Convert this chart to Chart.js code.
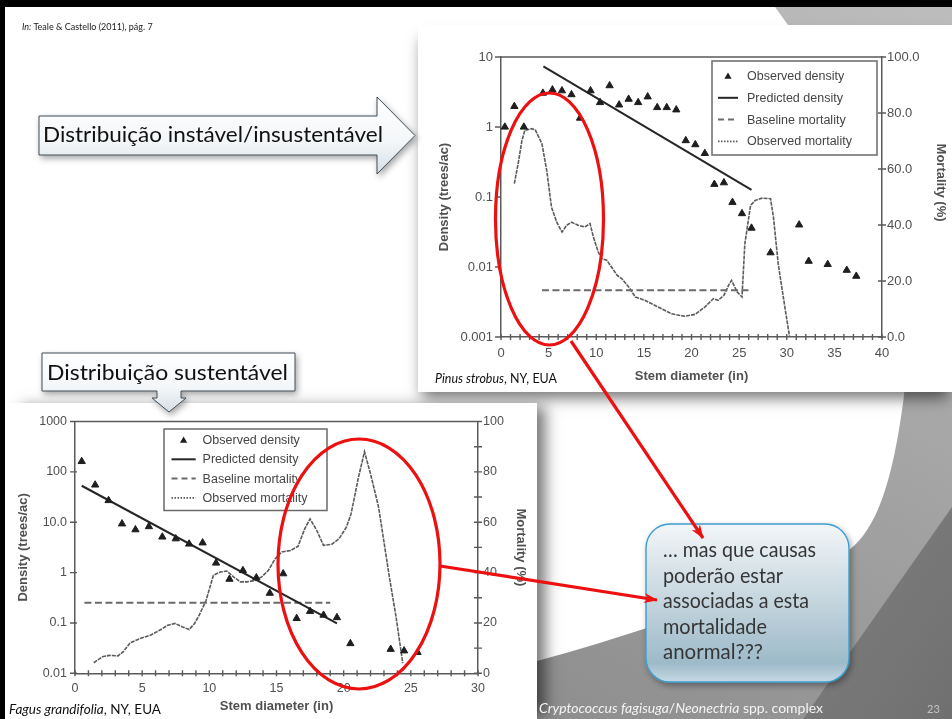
<!DOCTYPE html>
<html lang="pt">
<head>
<meta charset="utf-8">
<title>Distribuição diamétrica e mortalidade</title>
<script src="https://cdn.jsdelivr.net/npm/chart.js@4.4.1/dist/chart.umd.min.js"></script>
<style>
  html, body { margin: 0; padding: 0; }
  body { width: 952px; height: 719px; position: relative; overflow: hidden; background: #fff;
         font-family: Lato, "Open Sans", sans-serif; }
  svg.layer { position: absolute; left: 0; top: 0; }
  #bg { z-index: 0; }
  #fx { z-index: 3; pointer-events: none; }
  .panel { position: absolute; background: #fff; z-index: 1; }
  #pinusPanel { left: 418px; top: 25px; width: 534px; height: 367px;
                box-shadow: 0 10px 14px -4px rgba(0,0,0,.55); }
  #fagusPanel { left: 5px; top: 403px; width: 532px; height: 316px;
                box-shadow: 12px 0 14px -4px rgba(0,0,0,.55); }
  .panel canvas { position: absolute; left: 0; top: 0; filter: blur(0.45px); }
</style>
</head>
<body>

<svg id="bg" class="layer" width="952" height="719">
  <defs>
    <linearGradient id="greyWash" x1="1" y1="0" x2="0.3" y2="1">
      <stop offset="0" stop-color="#bdbdbd"/>
      <stop offset="1" stop-color="#878787"/>
    </linearGradient>
    <linearGradient id="darkWash" x1="0" y1="0" x2="1" y2="1">
      <stop offset="0" stop-color="#808080"/>
      <stop offset="1" stop-color="#707070"/>
    </linearGradient>
  </defs>
  <rect width="952" height="719" fill="url(#greyWash)"/>
  <path d="M803,719 L952,507 L952,719 Z" fill="url(#darkWash)"/>
  <path d="M0,0 H770 L788,25 C875,150 918,320 902,410 C890,495 872,535 845,553 C760,590 650,630 537,661 L537,719 L0,719 Z" fill="#fff"/>
  <rect x="0" y="0" width="952" height="7" fill="#000"/>
  <rect x="0" y="0" width="5" height="719" fill="#000"/>
</svg>

<div class="panel" id="pinusPanel"><canvas id="pinusChart" width="534" height="367"></canvas></div>
<div class="panel" id="fagusPanel"><canvas id="fagusChart" width="532" height="316"></canvas></div>

<svg id="fx" class="layer" width="952" height="719">
  <defs>
    <filter id="soft" x="-20%" y="-30%" width="150%" height="180%">
      <feDropShadow dx="2" dy="3" stdDeviation="3" flood-color="#000" flood-opacity="0.35"/>
    </filter>
    <linearGradient id="arrowFill" x1="0" y1="0" x2="0" y2="1">
      <stop offset="0" stop-color="#ffffff"/>
      <stop offset="0.6" stop-color="#f3f6f8"/>
      <stop offset="1" stop-color="#d6dee4"/>
    </linearGradient>
    <linearGradient id="noteFill" x1="0" y1="0" x2="0" y2="1">
      <stop offset="0" stop-color="#f2f6f8"/>
      <stop offset="0.45" stop-color="#c9d8e0"/>
      <stop offset="0.88" stop-color="#9dbac9"/>
      <stop offset="1" stop-color="#c6d9e3"/>
    </linearGradient>
    <marker id="redHead" markerWidth="14" markerHeight="10" refX="13" refY="5" orient="auto" markerUnits="userSpaceOnUse">
      <path d="M0,0 L14,5 L0,10 L4,5 Z" fill="#ec1010"/>
    </marker>
  </defs>

  <text x="22" y="30" font-size="9" fill="#222"><tspan font-style="italic">In:</tspan> Teale &amp; Castello (2011), pág. 7</text>

  <path d="M39,116 H377 V97 L415,135.5 L377,174 V155 H39 Z" fill="url(#arrowFill)" stroke="#3e4c57" stroke-width="1" filter="url(#soft)"/>
  <text x="43" y="142" font-size="22" fill="#111" textLength="340" lengthAdjust="spacingAndGlyphs">Distribuição instável/insustentável</text>

  <path d="M42,353 H295 V391 H181 V398 H186 L169,412 L152,398 H157 V391 H42 Z" fill="url(#arrowFill)" stroke="#3e4c57" stroke-width="1" filter="url(#soft)"/>
  <text x="47" y="380" font-size="22" fill="#111" textLength="241" lengthAdjust="spacingAndGlyphs">Distribuição sustentável</text>

  <text x="435" y="383" font-size="12.5" fill="#111" textLength="122" lengthAdjust="spacingAndGlyphs"><tspan font-style="italic">Pinus strobus</tspan>, NY, EUA</text>
  <text x="9" y="714" font-size="12.5" fill="#111" textLength="152" lengthAdjust="spacingAndGlyphs"><tspan font-style="italic">Fagus grandifolia</tspan>, NY, EUA</text>

  <rect x="646" y="524" width="203" height="158" rx="24" fill="url(#noteFill)" stroke="#3c9dd0" stroke-width="1.4" filter="url(#soft)"/>
  <g font-size="21" fill="#353535">
    <text x="663" y="557" textLength="153" lengthAdjust="spacingAndGlyphs">… mas que causas</text>
    <text x="663" y="583" textLength="120" lengthAdjust="spacingAndGlyphs">poderão estar</text>
    <text x="663" y="608" textLength="146" lengthAdjust="spacingAndGlyphs">associadas a esta</text>
    <text x="663" y="634" textLength="104" lengthAdjust="spacingAndGlyphs">mortalidade</text>
    <text x="663" y="659" textLength="100" lengthAdjust="spacingAndGlyphs">anormal???</text>
  </g>

  <g fill="none" stroke="#ec1010" stroke-width="3.2">
    <ellipse cx="549.5" cy="219" rx="54" ry="126"/>
    <ellipse cx="359" cy="564" rx="81" ry="125"/>
    <line x1="571" y1="341" x2="703" y2="538" marker-end="url(#redHead)"/>
    <line x1="440" y1="566" x2="657" y2="600" marker-end="url(#redHead)"/>
  </g>

  <text x="539" y="713" font-size="13.5" fill="#f4f4f4" textLength="284" lengthAdjust="spacingAndGlyphs"><tspan font-style="italic">Cryptococcus fagisuga</tspan>/<tspan font-style="italic">Neonectria</tspan> spp. complex</text>
  <text x="927" y="713" font-size="11" fill="#c4c4c4">23</text>
</svg>

<script>
// ---------- Pinus strobus, NY ----------
const pinusDiameter        = [0.4, 1.4, 2.4, 4.4, 5.4, 6.4, 7.4, 8.3, 9.4, 10.4, 11.4, 12.4, 13.4, 14.4, 15.4, 16.4,
                              17.4, 18.4, 19.4, 20.4, 21.4, 22.4, 23.4, 24.3, 25.3, 26.3, 28.3, 31.3, 32.3, 34.3, 36.3, 37.3];
const pinusDensity         = [1.0, 1.97, 1.0, 3.05, 3.4, 3.3, 2.9, 1.34, 3.3, 2.24, 3.9, 2.07, 2.5, 2.24, 2.7, 1.9,
                              1.9, 1.76, 0.64, 0.56, 0.42, 0.152, 0.16, 0.084, 0.058, 0.036, 0.016, 0.040, 0.0121, 0.0109, 0.0090, 0.0074];
const pinusPredictedDiam   = [4.45, 26.3];
const pinusPredicted       = [7.35, 0.126];
const pinusBaselineDiam    = [4.3, 26.3];
const pinusBaseline        = [16.7, 16.7];
const pinusMortalityDiam   = [1.4, 1.8, 2.2, 2.5, 3.2, 3.6, 4.3, 4.8, 5.3, 5.85, 6.4, 6.9, 7.4, 8.1, 8.8, 9.35, 9.7, 10.2,
                              10.6, 11.1, 11.6, 12.2, 12.7, 13.4, 14.1, 15.1, 16.5, 17.9, 19.3, 20.4, 21.4, 22.3, 22.8,
                              23.4, 23.9, 24.2, 24.8, 25.3, 25.6, 26.2, 26.7, 27.4, 28.3, 28.6, 29.1, 29.8, 30.3];
const pinusMortality       = [54.8, 61.9, 70.2, 73.8, 74.4, 74, 69, 59.5, 46.4, 41, 37.5, 39.9, 41, 39.9, 39.3, 40.5, 35.7, 30.4,
                              28, 27.4, 25, 22, 20.8, 17.9, 14.3, 13.1, 10.7, 8.3, 7.4, 8.1, 10.7, 13.7, 13.1,
                              14.9, 18.5, 20.2, 16.1, 14.3, 33.3, 47, 48.8, 49.6, 49.4, 42.9, 26.2, 10.7, 0];
const pinusDensityTicks    = [0.001, 0.01, 0.1, 1, 10];
const pinusDensityLabels   = ['0.001', '0.01', '0.1', '1', '10'];
const pinusMortTicks       = [0, 20, 40, 60, 80, 100];
const pinusMortLabels      = ['0.0', '20.0', '40.0', '60.0', '80.0', '100.0'];
const pinusDiamLabels      = ['0', '5', '10', '15', '20', '25', '30', '35', '40'];

// ---------- Fagus grandifolia, NY ----------
const fagusDiameter        = [0.5, 1.5, 2.5, 3.5, 4.5, 5.5, 6.5, 7.5, 8.5, 9.5, 10.5, 11.5, 12.5, 13.5, 14.5, 15.5,
                              16.5, 17.5, 18.5, 19.5, 20.5, 23.5, 24.5, 25.5];
const fagusDensity         = [161, 55, 27, 9.3, 7.1, 8.2, 5.1, 4.7, 3.7, 3.9, 1.55, 0.74, 1.1, 0.79, 0.39, 0.95,
                              0.123, 0.17, 0.143, 0.128, 0.039, 0.030, 0.028, 0.026];
const fagusPredictedDiam   = [0.5, 19.5];
const fagusPredicted       = [53, 0.098];
const fagusBaselineDiam    = [0.7, 19.0];
const fagusBaseline        = [28, 28];
const fagusMortalityDiam   = [1.4, 2.05, 2.57, 3.2, 3.6, 4.1, 4.9, 5.65, 6.4, 6.9, 7.45, 7.96, 8.5, 8.9, 9.25, 9.76, 10.3,
                              10.8, 11.3, 11.8, 12.3, 12.8, 13.4, 13.9, 14.4, 14.9, 15.4, 16.05, 16.6, 17.1, 17.5, 18,
                              18.5, 19.1, 19.65, 20.2, 20.55, 21.1, 21.55, 22.0, 22.6, 23.4, 23.9, 24.4];
const fagusMortality       = [4.2, 6.6, 7.1, 6.9, 8.6, 12.1, 13.9, 15.2, 17.4, 19.1, 19.8, 18.5, 17.4, 19.8, 23.1, 29, 38.9,
                              40.2, 40.6, 38.3, 36.3, 36.3, 36.9, 38.3, 40.9, 45.5, 48.2, 48.8, 50.4, 57.4, 61.3, 56.7,
                              50.8, 51.2, 53.4, 58, 63.3, 77.8, 88, 79.2, 66, 38.3, 22.4, 4];
const fagusDensityTicks    = [0.01, 0.1, 1, 10, 100, 1000];
const fagusDensityLabels   = ['0.01', '0.1', '1', '10.0', '100', '1000'];
const fagusMortTicks       = [0, 10, 20, 30, 40, 50, 60, 70, 80, 90, 100];
const fagusMortLabels      = ['0', '', '20', '', '40', '', '60', '', '80', '', '100'];
const fagusDiamLabels      = ['0', '5', '10', '15', '20', '25', '30'];

const seriesNames = ['Observed density', 'Predicted density', 'Baseline mortality', 'Observed mortality'];

// ---------- shared styling ----------
const FONT = '"Liberation Sans", Arial, sans-serif';
const AXIS = '#5a5a5a';
const LABEL = '#505050';

const zip = (xs, ys) => xs.map((x, i) => ({ x, y: ys[i] }));
const zeroPad = s => { s.paddingLeft = 0; s.paddingRight = 0; s.paddingTop = 0; s.paddingBottom = 0; };

// tick marks crossing the frame, plus the upper frame line
const frameTicks = {
  id: 'frameTicks',
  afterDraw(chart, args, o) {
    const { ctx, chartArea: a, scales } = chart;
    ctx.save();
    ctx.strokeStyle = AXIS;
    ctx.lineWidth = 1.4;
    ctx.beginPath();
    ctx.moveTo(a.left, a.top); ctx.lineTo(a.right, a.top);
    scales.x.ticks.forEach(t => {
      const px = scales.x.getPixelForValue(t.value);
      ctx.moveTo(px, a.bottom - o.xIn); ctx.lineTo(px, a.bottom + o.xOut);
    });
    scales.y.ticks.forEach(t => {
      const py = scales.y.getPixelForValue(t.value);
      ctx.moveTo(a.left - o.yOut, py); ctx.lineTo(a.left + o.yIn, py);
    });
    scales.y2.ticks.forEach(t => {
      const py = scales.y2.getPixelForValue(t.value);
      ctx.moveTo(a.right - o.rIn, py); ctx.lineTo(a.right + o.rOut, py);
    });
    ctx.stroke();
    ctx.restore();
  }
};

// boxed key placed inside the plot area
const boxLegend = {
  id: 'boxLegend',
  afterDatasetsDraw(chart, args, o) {
    const { ctx, chartArea: a } = chart;
    const x0 = a.left + o.x, y0 = a.top + o.y;
    ctx.save();
    ctx.fillStyle = '#fff';
    ctx.fillRect(x0, y0, o.w, o.h);
    ctx.strokeStyle = '#6a6a6a';
    ctx.lineWidth = 1.5;
    ctx.strokeRect(x0, y0, o.w, o.h);
    ctx.font = o.fontSize + 'px ' + FONT;
    ctx.textBaseline = 'middle';
    chart.data.datasets.forEach((ds, i) => {
      const cy = y0 + o.row0 + i * o.gap;
      if (ds.showLine === false) {
        const cx = x0 + (o.s0 + o.s1) / 2, r = 3.6;
        ctx.fillStyle = ds.backgroundColor;
        ctx.beginPath();
        ctx.moveTo(cx, cy - r); ctx.lineTo(cx + r, cy + r * 0.75); ctx.lineTo(cx - r, cy + r * 0.75);
        ctx.closePath(); ctx.fill();
      } else {
        ctx.strokeStyle = ds.borderColor;
        ctx.lineWidth = ds.borderWidth;
        ctx.setLineDash(ds.legendDash || []);
        ctx.beginPath();
        ctx.moveTo(x0 + o.s0, cy); ctx.lineTo(x0 + o.s1, cy);
        ctx.stroke();
        ctx.setLineDash([]);
      }
      ctx.fillStyle = '#454545';
      ctx.fillText(ds.label, x0 + o.tx, cy + 0.5);
    });
    ctx.restore();
  }
};

function buildChart(canvasId, s) {
  return new Chart(document.getElementById(canvasId), {
    type: 'scatter',
    data: {
      datasets: [
        { label: seriesNames[0], data: zip(s.diam, s.density), yAxisID: 'y', showLine: false,
          pointStyle: 'triangle', pointRadius: 4.2, backgroundColor: '#1e1e1e', borderColor: '#1e1e1e', borderWidth: 1 },
        { label: seriesNames[1], data: zip(s.predDiam, s.pred), yAxisID: 'y', showLine: true,
          borderColor: '#262626', borderWidth: 2, pointRadius: 0 },
        { label: seriesNames[2], data: zip(s.baseDiam, s.base), yAxisID: 'y2', showLine: true,
          borderColor: '#6a6a6a', borderWidth: 2, borderDash: [7, 3.5], legendDash: [6, 4], pointRadius: 0 },
        { label: seriesNames[3], data: zip(s.mortDiam, s.mort), yAxisID: 'y2', showLine: true,
          borderColor: '#5a5a5a', borderWidth: 1.6, borderDash: [4, 1], legendDash: [1.5, 1.5], pointRadius: 0 }
      ]
    },
    options: {
      responsive: false,
      animation: false,
      devicePixelRatio: 1,
      layout: { padding: { top: s.top, left: 0, right: 0, bottom: 0 } },
      plugins: {
        legend: { display: false },
        tooltip: { enabled: false },
        frameTicks: s.marks,
        boxLegend: s.key
      },
      scales: {
        x: {
          type: 'linear', position: 'bottom', min: 0, max: s.xMax,
          afterFit: sc => { sc.height = s.xHeight; zeroPad(sc); },
          ticks: { stepSize: 1, autoSkip: false, maxRotation: 0, padding: s.xPad, color: LABEL,
                   font: { family: FONT, size: s.tickSize },
                   callback: v => (v % 5 === 0 ? s.xLabels[v / 5] : '') },
          grid: { drawOnChartArea: false, drawTicks: false },
          border: { color: AXIS, width: 1.5 },
          title: { display: true, text: 'Stem diameter (in)', color: LABEL,
                   font: { family: FONT, size: 13, weight: 'bold' }, padding: { top: 0, bottom: s.xTitlePad } }
        },
        y: {
          type: 'logarithmic', position: 'left',
          min: s.yTicks[0], max: s.yTicks[s.yTicks.length - 1],
          afterBuildTicks: sc => { sc.ticks = s.yTicks.map(v => ({ value: v })); },
          afterFit: sc => { sc.width = s.yWidth; zeroPad(sc); },
          ticks: { padding: 8, color: LABEL, font: { family: FONT, size: s.tickSize },
                   callback: (v, i) => s.yLabels[i] },
          grid: { drawOnChartArea: false, drawTicks: false },
          border: { color: AXIS, width: 1.5 },
          title: { display: true, text: 'Density (trees/ac)', color: LABEL,
                   font: { family: FONT, size: 13, weight: 'bold' }, padding: { top: s.yTitlePad, bottom: 0 } }
        },
        y2: {
          type: 'linear', position: 'right', min: 0, max: 100,
          afterBuildTicks: sc => { sc.ticks = s.rTicks.map(v => ({ value: v })); },
          afterFit: sc => { sc.width = s.rWidth; zeroPad(sc); },
          ticks: { padding: 5, color: LABEL, font: { family: FONT, size: s.tickSize },
                   callback: (v, i) => s.rLabels[i] },
          grid: { drawOnChartArea: false, drawTicks: false },
          border: { color: AXIS, width: 1.5 },
          // trailing spaces lift the centred label toward the top of the axis when requested
          title: { display: true, text: 'Mortality (%)' + '\u00a0'.repeat(s.rTitleLift), color: LABEL,
                   font: { family: FONT, size: 13, weight: 'bold' }, padding: { top: s.rTitlePad, bottom: 0 } }
        }
      }
    },
    plugins: [frameTicks, boxLegend]
  });
}

buildChart('pinusChart', {
  diam: pinusDiameter, density: pinusDensity,
  predDiam: pinusPredictedDiam, pred: pinusPredicted,
  baseDiam: pinusBaselineDiam, base: pinusBaseline,
  mortDiam: pinusMortalityDiam, mort: pinusMortality,
  yTicks: pinusDensityTicks, yLabels: pinusDensityLabels,
  rTicks: pinusMortTicks, rLabels: pinusMortLabels,
  xLabels: pinusDiamLabels, xMax: 40,
  top: 32, xHeight: 55, yWidth: 83, rWidth: 70,
  xPad: 8.5, tickSize: 13, xTitlePad: 8, yTitlePad: 19, rTitlePad: 4, rTitleLift: 8,
  marks: { xIn: 3, xOut: 3, yOut: 6, yIn: 0, rIn: 4, rOut: 4 },
  key: { x: 211, y: 4, w: 165, h: 94, row0: 15, gap: 21.8, s0: 6, s1: 26, tx: 35, fontSize: 12.5 }
});

buildChart('fagusChart', {
  diam: fagusDiameter, density: fagusDensity,
  predDiam: fagusPredictedDiam, pred: fagusPredicted,
  baseDiam: fagusBaselineDiam, base: fagusBaseline,
  mortDiam: fagusMortalityDiam, mort: fagusMortality,
  yTicks: fagusDensityTicks, yLabels: fagusDensityLabels,
  rTicks: fagusMortTicks, rLabels: fagusMortLabels,
  xLabels: fagusDiamLabels, xMax: 30,
  top: 18.5, xHeight: 45.7, yWidth: 70, rWidth: 59,
  xPad: 7.5, tickSize: 12.5, xTitlePad: 5, yTitlePad: 11, rTitlePad: 9, rTitleLift: 0,
  marks: { xIn: 3, xOut: 3, yOut: 5, yIn: 2, rIn: 4, rOut: 4 },
  key: { x: 89, y: 7.5, w: 163, h: 81.5, row0: 11, gap: 19.3, s0: 7.5, s1: 31.7, tx: 38.6, fontSize: 12.5 }
});
</script>
</body>
</html>
